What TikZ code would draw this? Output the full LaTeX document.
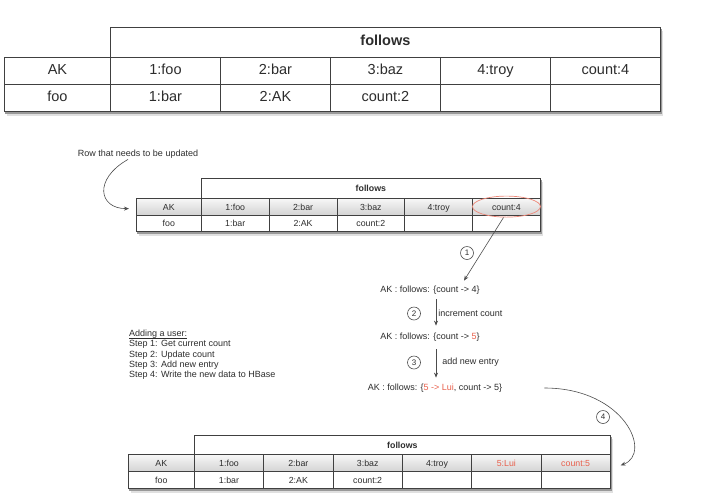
\documentclass[tikz,border=0pt]{standalone}
\usepackage{fontspec}
\setmainfont{Liberation Sans}
\usetikzlibrary{shapes.geometric, backgrounds, arrows.meta}

\definecolor{hbred}{RGB}{232,96,76}
\definecolor{ink}{RGB}{45,45,45}

\tikzset{
    cell/.style={draw=black!75, fill=white, anchor=north west, inner sep=0pt, text=ink,
        text height=0.72em, text depth=0.04em},
    bigcell/.style={cell, line width=0.9pt, minimum height=27pt, font=\fontsize{14.5}{16}\selectfont},
    smallcell/.style={cell, line width=0.7pt, font=\fontsize{8.8}{10}\selectfont},
    keyrow/.style={top color=black!3, bottom color=black!17},
    note/.style={font=\fontsize{9}{10.3}\selectfont, text=ink, inner sep=1pt},
    stepno/.style={circle, draw=black!70, line width=0.6pt, inner sep=0pt, minimum size=13pt,
        font=\fontsize{8}{8}\selectfont, text=ink},
    flow/.style={draw=black!70, line width=0.6pt, -{Stealth[length=5pt, width=4pt]}}
}

\begin{document}
\begin{tikzpicture}[x=1pt, y=-1pt]
    \useasboundingbox (0,0) rectangle (714,499);

    % the table as it is stored
    \node[bigcell, font=\fontsize{14.5}{16}\selectfont\bfseries, minimum width=550pt, minimum height=30pt] (top-head) at (110,27) {follows};
    \node[bigcell, minimum width=106pt] (top-key1) at (4,57) {AK};
    \foreach \txt [count=\i] in {1:foo, 2:bar, 3:baz, 4:troy, count:4}
        \node[bigcell, minimum width=110pt] (top-a\i) at ({110+110*(\i-1)},57) {\txt};
    \node[bigcell, minimum width=106pt] (top-key2) at (4,84) {foo};
    \foreach \txt [count=\i] in {1:bar, 2:AK, count:2, {}, {}}
        \node[bigcell, minimum width=110pt] (top-b\i) at ({110+110*(\i-1)},84) {\txt};

    % the row to update
    \node[note] (rownote) at (138,154) {Row that needs to be updated};
    \node[smallcell, font=\fontsize{8.8}{10}\selectfont\bfseries, minimum width=339pt, minimum height=20pt] (mid-head) at (201,178) {follows};
    \node[smallcell, keyrow, minimum width=65pt, minimum height=16.5pt] (mid-key1) at (136,198) {AK};
    \foreach \txt [count=\i] in {1:foo, 2:bar, 3:baz, 4:troy, count:4}
        \node[smallcell, keyrow, minimum width=67.8pt, minimum height=16.5pt] (mid-a\i) at ({201+67.8*(\i-1)},198) {\txt};
    \node[smallcell, minimum width=65pt, minimum height=16.5pt] (mid-key2) at (136,214.5) {foo};
    \foreach \txt [count=\i] in {1:bar, 2:AK, count:2, {}, {}}
        \node[smallcell, minimum width=67.8pt, minimum height=16.5pt] (mid-b\i) at ({201+67.8*(\i-1)},214.5) {\txt};
    \node[ellipse, draw=hbred!75, line width=0.7pt, minimum width=68pt, minimum height=21pt, inner sep=0pt] (upd) at (mid-a5) {};
    \draw[flow] ([xshift=-10pt]rownote.south) .. controls +(-35,20) and +(-30,0) .. ([xshift=-7pt, yshift=-2pt]mid-key1.west);

    % steps
    \node[note] (st1) at (430,290) {AK : follows: \{count -> 4\}};
    \node[note] (st2) at (430,337) {AK : follows: \{count -> \textcolor{hbred}{5}\}};
    \node[note] (st3) at (435,388) {AK : follows: \{\textcolor{hbred}{5 -> Lui}, count -> 5\}};

    \draw[flow] (upd.255) -- ([xshift=34pt, yshift=4pt]st1.north);
    \node[stepno] (n1) at (467,253) {1};
    \draw[flow, shorten <=4pt, shorten >=6pt] ([xshift=6pt]st1.south) -- ([xshift=6pt]st2.north)
        node[midway, right=1pt, note] (lab2) {increment count}
        node[midway, stepno, xshift=-22pt] (n2) {2};
    \draw[flow, shorten <=7pt, shorten >=5pt] ([xshift=6pt]st2.south) -- ([xshift=6pt]st2.south |- st3.north)
        node[midway, right=5pt, note] (lab3) {add new entry}
        node[midway, stepno, xshift=-22pt] (n3) {3};

    \node[note, anchor=west, align=left] (howto) at (128,358) {\underline{\smash{Adding a user:}}\\Step 1: Get current count\\Step 2: Update count\\Step 3: Add new entry\\Step 4: Write the new data to HBase};

    % the row after the write
    \node[smallcell, font=\fontsize{8.8}{10}\selectfont\bfseries, minimum width=416pt, minimum height=19pt] (bot-head) at (194,435) {follows};
    \node[smallcell, keyrow, minimum width=66pt, minimum height=17pt] (bot-key1) at (128,454) {AK};
    \foreach \txt [count=\i] in {1:foo, 2:bar, 3:baz, 4:troy, \textcolor{hbred}{5:Lui}, \textcolor{hbred}{count:5}}
        \node[smallcell, keyrow, minimum width=69.33pt, minimum height=17pt] (bot-a\i) at ({194+69.33*(\i-1)},454) {\txt};
    \node[smallcell, minimum width=66pt, minimum height=17pt] (bot-key2) at (128,471) {foo};
    \foreach \txt [count=\i] in {1:bar, 2:AK, count:2, {}, {}, {}}
        \node[smallcell, minimum width=69.33pt, minimum height=17pt] (bot-b\i) at ({194+69.33*(\i-1)},471) {\txt};

    \draw[flow] ([xshift=41pt]st3.east) .. controls +(80,0) and +(32,-12) .. ([xshift=10pt, yshift=-2.5pt]bot-a6.east);
    \node[stepno] (n4) at (603,417) {4};

    % shadows under the tables
    \begin{scope}[on background layer]
        \foreach \hd/\ky/\lst in {top-head/top-key1/top-b5, mid-head/mid-key1/mid-b5, bot-head/bot-key1/bot-b6} {
            \fill[black!12] ([shift={(2.5pt,-4pt)}]\hd.north west) rectangle ([shift={(2.5pt,-4pt)}]\lst.south east);
            \fill[black!12] ([shift={(2.5pt,-4pt)}]\ky.north west) rectangle ([shift={(2.5pt,-4pt)}]\lst.south east);
            \fill[black!40] ([shift={(1pt,-2pt)}]\hd.north west) rectangle ([shift={(1pt,-2pt)}]\lst.south east);
            \fill[black!40] ([shift={(1pt,-2pt)}]\ky.north west) rectangle ([shift={(1pt,-2pt)}]\lst.south east);
        }
    \end{scope}
\end{tikzpicture}
\end{document}
